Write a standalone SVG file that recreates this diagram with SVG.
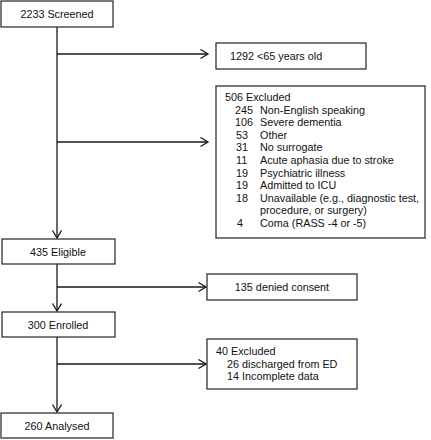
<svg xmlns="http://www.w3.org/2000/svg" width="431" height="440" viewBox="0 0 431 440">
<defs>
<marker id="arr" markerUnits="userSpaceOnUse" markerWidth="12" markerHeight="12" refX="8" refY="5" orient="auto">
<path d="M0.5,0.5 L8,5 L0.5,9.5" fill="none" stroke="#1a1a1a" stroke-width="1.3"/>
</marker>
</defs>
<style>
.box{fill:#fff;stroke:#333;stroke-width:1.3}
.ln{fill:none;stroke:#1a1a1a;stroke-width:1.3}
text{font-family:"Liberation Sans",Arial,sans-serif;font-size:10.8px;fill:#111}
.c{text-anchor:middle}
</style>
<rect width="431" height="440" fill="#fff"/>
<g id="connectors">
<line class="ln" x1="57" y1="27" x2="57" y2="238" marker-end="url(#arr)"/>
<line class="ln" x1="57" y1="54" x2="208" y2="54" marker-end="url(#arr)"/>
<line class="ln" x1="57" y1="142" x2="208" y2="142" marker-end="url(#arr)"/>
<line class="ln" x1="57" y1="264" x2="57" y2="311" marker-end="url(#arr)"/>
<line class="ln" x1="57" y1="287" x2="206" y2="287" marker-end="url(#arr)"/>
<line class="ln" x1="57" y1="337" x2="57" y2="412" marker-end="url(#arr)"/>
<line class="ln" x1="57" y1="364" x2="206" y2="364" marker-end="url(#arr)"/>
</g>
<g id="screened">
<rect class="box" x="1" y="1" width="112" height="26"/>
<text class="c" x="57" y="18">2233 Screened</text>
</g>
<g id="under65">
<rect class="box" x="216" y="43" width="150" height="26"/>
<text x="230" y="60">1292 &lt;65 years old</text>
</g>
<g id="excluded506">
<rect class="box" x="216" y="86" width="209" height="152"/>
<text x="225" y="101">506 Excluded</text>
<text x="235" y="113.6">245</text><text x="260" y="113.6">Non-English speaking</text>
<text x="235" y="126.2">106</text><text x="260" y="126.2">Severe dementia</text>
<text x="236" y="138.8">53</text><text x="260" y="138.8">Other</text>
<text x="236" y="151.4">31</text><text x="260" y="151.4">No surrogate</text>
<text x="236" y="164">11</text><text x="260" y="164">Acute aphasia due to stroke</text>
<text x="236" y="176.6">19</text><text x="260" y="176.6">Psychiatric illness</text>
<text x="236" y="189.2">19</text><text x="260" y="189.2">Admitted to ICU</text>
<text x="236" y="201.8">18</text><text x="260" y="201.8">Unavailable (e.g., diagnostic test,</text>
<text x="260" y="214.4">procedure, or surgery)</text>
<text x="237" y="227">4</text><text x="260" y="227">Coma (RASS -4 or -5)</text>
</g>
<g id="eligible">
<rect class="box" x="2" y="239" width="113" height="25"/>
<text class="c" x="58" y="256">435 Eligible</text>
</g>
<g id="denied">
<rect class="box" x="207" y="274" width="150" height="26"/>
<text class="c" x="282" y="291">135 denied consent</text>
</g>
<g id="enrolled">
<rect class="box" x="2" y="312" width="113" height="25"/>
<text class="c" x="58" y="328.5">300 Enrolled</text>
</g>
<g id="excluded40">
<rect class="box" x="207" y="339" width="150" height="50"/>
<text x="216" y="355">40 Excluded</text>
<text x="227" y="367.5">26 discharged from ED</text>
<text x="227" y="380">14 Incomplete data</text>
</g>
<g id="analysed">
<rect class="box" x="1" y="413" width="112" height="25"/>
<text class="c" x="57" y="429.5">260 Analysed</text>
</g>
</svg>
